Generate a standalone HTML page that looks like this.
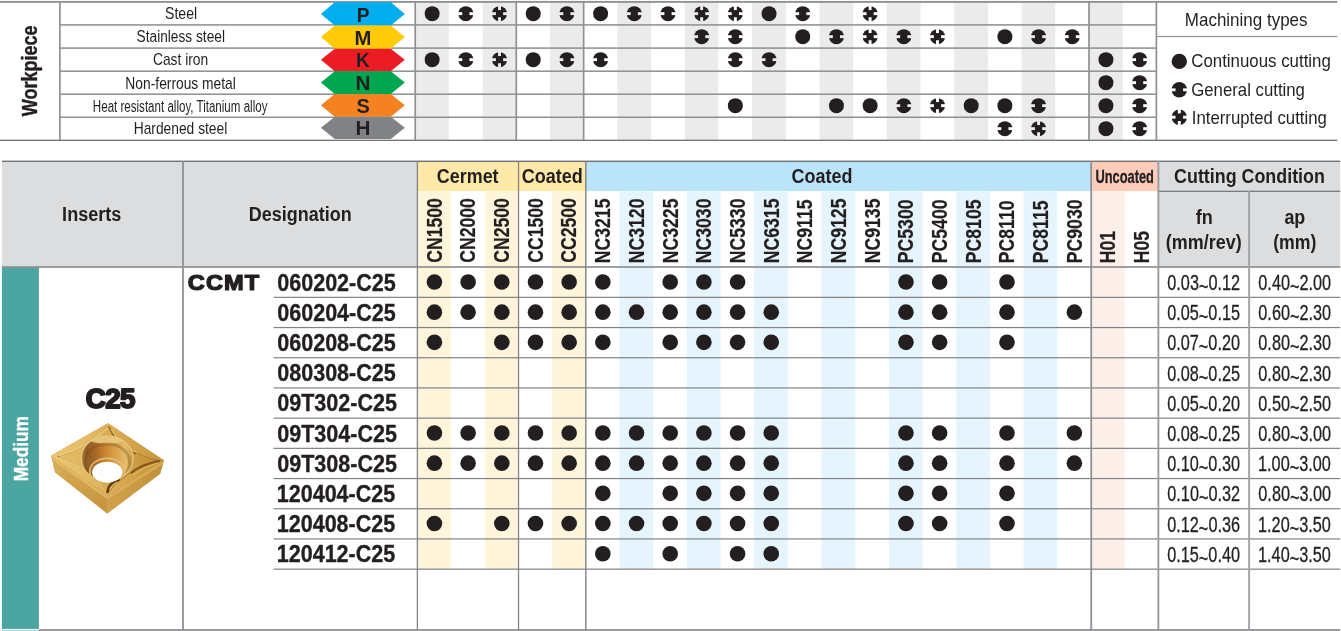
<!DOCTYPE html>
<html lang="en"><head><meta charset="utf-8"><title>CCMT C25 insert grades</title>
<style>html,body{margin:0;padding:0;background:#fff;}body{width:1341px;height:631px;overflow:hidden;font-family:"Liberation Sans", sans-serif;}</style>
</head><body>
<svg width="1341" height="631" viewBox="0 0 1341 631" font-family='"Liberation Sans", sans-serif' style="display:block">
<rect x="415.20" y="1.90" width="33.69" height="138.35" fill="#ebebec"/>
<rect x="482.58" y="1.90" width="33.69" height="138.35" fill="#ebebec"/>
<rect x="549.96" y="1.90" width="33.69" height="138.35" fill="#ebebec"/>
<rect x="617.34" y="1.90" width="33.69" height="138.35" fill="#ebebec"/>
<rect x="684.72" y="1.90" width="33.69" height="138.35" fill="#ebebec"/>
<rect x="752.10" y="1.90" width="33.69" height="138.35" fill="#ebebec"/>
<rect x="819.48" y="1.90" width="33.69" height="138.35" fill="#ebebec"/>
<rect x="886.86" y="1.90" width="33.69" height="138.35" fill="#ebebec"/>
<rect x="954.24" y="1.90" width="33.69" height="138.35" fill="#ebebec"/>
<rect x="1021.62" y="1.90" width="33.69" height="138.35" fill="#ebebec"/>
<rect x="1089.00" y="1.90" width="33.69" height="138.35" fill="#ebebec"/>
<rect x="0.00" y="0.95" width="1337.30" height="1.90" fill="#8f9194"/>
<rect x="0.00" y="139.67" width="1337.30" height="1.35" fill="#737477"/>
<rect x="60.00" y="24.12" width="1096.38" height="1.55" fill="#8f9194"/>
<rect x="60.00" y="47.33" width="1096.38" height="1.55" fill="#8f9194"/>
<rect x="60.00" y="70.42" width="1096.38" height="1.55" fill="#8f9194"/>
<rect x="60.00" y="93.42" width="1096.38" height="1.55" fill="#8f9194"/>
<rect x="60.00" y="116.47" width="1096.38" height="1.55" fill="#8f9194"/>
<rect x="59.05" y="1.90" width="1.70" height="138.35" fill="#8f9194"/>
<rect x="414.35" y="1.90" width="1.70" height="138.35" fill="#8f9194"/>
<rect x="515.42" y="1.90" width="1.70" height="138.35" fill="#8f9194"/>
<rect x="582.80" y="1.90" width="1.70" height="138.35" fill="#8f9194"/>
<rect x="1088.15" y="1.90" width="1.70" height="138.35" fill="#8f9194"/>
<rect x="1155.53" y="1.90" width="1.70" height="138.35" fill="#8f9194"/>
<rect x="1156.38" y="35.90" width="180.92" height="1.20" fill="#8f9194"/>
<polygon points="320.9,14.00 334.8,2.20 390.8,2.20 404.8,14.00 390.8,25.60 334.8,25.60" fill="#00adee"/>
<text transform="translate(356.63,21.95) scale(0.9709,1)" font-size="19.8" font-weight="bold" text-anchor="start" fill="#231f20">P</text>
<text transform="translate(165.07,18.80) scale(0.8684,1)" font-size="16.2" font-weight="normal" text-anchor="start" fill="#231f20">Steel</text>
<polygon points="320.9,37.10 334.8,25.60 390.8,25.60 404.8,37.10 390.8,48.80 334.8,48.80" fill="#ffcb08"/>
<text transform="translate(354.46,44.95) scale(1.0231,1)" font-size="19.8" font-weight="bold" text-anchor="start" fill="#231f20">M</text>
<text transform="translate(136.58,42.00) scale(0.8465,1)" font-size="16.2" font-weight="normal" text-anchor="start" fill="#231f20">Stainless steel</text>
<polygon points="320.9,59.80 334.8,48.80 390.8,48.80 404.8,59.80 390.8,71.20 334.8,71.20" fill="#ec1c24"/>
<text transform="translate(356.05,67.05) scale(0.9601,1)" font-size="19.8" font-weight="bold" text-anchor="start" fill="#231f20">K</text>
<text transform="translate(152.91,64.70) scale(0.8528,1)" font-size="16.2" font-weight="normal" text-anchor="start" fill="#231f20">Cast iron</text>
<polygon points="320.9,82.50 334.8,71.20 390.8,71.20 404.8,82.50 390.8,93.90 334.8,93.90" fill="#00a650"/>
<text transform="translate(355.53,89.95) scale(1.0461,1)" font-size="19.8" font-weight="bold" text-anchor="start" fill="#231f20">N</text>
<text transform="translate(125.37,88.80) scale(0.8526,1)" font-size="16.2" font-weight="normal" text-anchor="start" fill="#231f20">Non-ferrous metal</text>
<polygon points="320.9,105.20 334.8,93.90 390.8,93.90 404.8,105.20 390.8,116.75 334.8,116.75" fill="#f58220"/>
<text transform="translate(356.54,112.85) scale(1.0101,1)" font-size="19.8" font-weight="bold" text-anchor="start" fill="#231f20">S</text>
<text transform="translate(92.85,112.00) scale(0.7145,1)" font-size="16.2" font-weight="normal" text-anchor="start" fill="#231f20">Heat resistant alloy, Titanium alloy</text>
<polygon points="320.9,127.80 334.8,116.75 390.8,116.75 404.8,127.80 390.8,139.10 334.8,139.10" fill="#808285"/>
<text transform="translate(355.53,134.95) scale(1.0461,1)" font-size="19.8" font-weight="bold" text-anchor="start" fill="#231f20">H</text>
<text transform="translate(133.67,133.90) scale(0.8523,1)" font-size="16.2" font-weight="normal" text-anchor="start" fill="#231f20">Hardened steel</text>
<text transform="translate(37.40,116.22) rotate(-90) scale(0.8165,1)" font-size="22.1" font-weight="bold" text-anchor="start" fill="#231f20" stroke="#231f20" stroke-width="0.35" stroke-linejoin="round">Workpiece</text>
<circle cx="432.14" cy="13.65" r="7.5" fill="#231f20"/>
<circle cx="465.84" cy="13.65" r="7.5" fill="#231f20"/>
<rect x="457.74" y="12.20" width="4.50" height="2.90" fill="#fff"/>
<rect x="469.44" y="12.20" width="4.50" height="2.90" fill="#fff"/>
<circle cx="499.52" cy="13.65" r="7.5" fill="#231f20"/>
<rect x="491.42" y="12.20" width="4.50" height="2.90" fill="#ebebec"/>
<rect x="503.12" y="12.20" width="4.50" height="2.90" fill="#ebebec"/>
<rect x="498.07" y="5.55" width="2.90" height="4.50" fill="#ebebec"/>
<rect x="498.07" y="17.25" width="2.90" height="4.50" fill="#ebebec"/>
<circle cx="533.22" cy="13.65" r="7.5" fill="#231f20"/>
<circle cx="566.90" cy="13.65" r="7.5" fill="#231f20"/>
<rect x="558.80" y="12.20" width="4.50" height="2.90" fill="#ebebec"/>
<rect x="570.50" y="12.20" width="4.50" height="2.90" fill="#ebebec"/>
<circle cx="600.60" cy="13.65" r="7.5" fill="#231f20"/>
<circle cx="634.28" cy="13.65" r="7.5" fill="#231f20"/>
<rect x="626.18" y="12.20" width="4.50" height="2.90" fill="#ebebec"/>
<rect x="637.88" y="12.20" width="4.50" height="2.90" fill="#ebebec"/>
<circle cx="667.98" cy="13.65" r="7.5" fill="#231f20"/>
<rect x="659.88" y="12.20" width="4.50" height="2.90" fill="#fff"/>
<rect x="671.58" y="12.20" width="4.50" height="2.90" fill="#fff"/>
<circle cx="701.67" cy="13.65" r="7.5" fill="#231f20"/>
<rect x="693.57" y="12.20" width="4.50" height="2.90" fill="#ebebec"/>
<rect x="705.27" y="12.20" width="4.50" height="2.90" fill="#ebebec"/>
<rect x="700.22" y="5.55" width="2.90" height="4.50" fill="#ebebec"/>
<rect x="700.22" y="17.25" width="2.90" height="4.50" fill="#ebebec"/>
<circle cx="735.35" cy="13.65" r="7.5" fill="#231f20"/>
<rect x="727.25" y="12.20" width="4.50" height="2.90" fill="#fff"/>
<rect x="738.95" y="12.20" width="4.50" height="2.90" fill="#fff"/>
<rect x="733.90" y="5.55" width="2.90" height="4.50" fill="#fff"/>
<rect x="733.90" y="17.25" width="2.90" height="4.50" fill="#fff"/>
<circle cx="769.04" cy="13.65" r="7.5" fill="#231f20"/>
<circle cx="802.74" cy="13.65" r="7.5" fill="#231f20"/>
<rect x="794.63" y="12.20" width="4.50" height="2.90" fill="#fff"/>
<rect x="806.34" y="12.20" width="4.50" height="2.90" fill="#fff"/>
<circle cx="870.11" cy="13.65" r="7.5" fill="#231f20"/>
<rect x="862.01" y="12.20" width="4.50" height="2.90" fill="#fff"/>
<rect x="873.71" y="12.20" width="4.50" height="2.90" fill="#fff"/>
<rect x="868.66" y="5.55" width="2.90" height="4.50" fill="#fff"/>
<rect x="868.66" y="17.25" width="2.90" height="4.50" fill="#fff"/>
<circle cx="701.67" cy="36.65" r="7.5" fill="#231f20"/>
<rect x="693.57" y="35.20" width="4.50" height="2.90" fill="#ebebec"/>
<rect x="705.27" y="35.20" width="4.50" height="2.90" fill="#ebebec"/>
<circle cx="735.35" cy="36.65" r="7.5" fill="#231f20"/>
<rect x="727.25" y="35.20" width="4.50" height="2.90" fill="#fff"/>
<rect x="738.95" y="35.20" width="4.50" height="2.90" fill="#fff"/>
<circle cx="802.74" cy="36.65" r="7.5" fill="#231f20"/>
<circle cx="836.43" cy="36.65" r="7.5" fill="#231f20"/>
<rect x="828.33" y="35.20" width="4.50" height="2.90" fill="#ebebec"/>
<rect x="840.03" y="35.20" width="4.50" height="2.90" fill="#ebebec"/>
<circle cx="870.11" cy="36.65" r="7.5" fill="#231f20"/>
<rect x="862.01" y="35.20" width="4.50" height="2.90" fill="#fff"/>
<rect x="873.71" y="35.20" width="4.50" height="2.90" fill="#fff"/>
<rect x="868.66" y="28.55" width="2.90" height="4.50" fill="#fff"/>
<rect x="868.66" y="40.25" width="2.90" height="4.50" fill="#fff"/>
<circle cx="903.80" cy="36.65" r="7.5" fill="#231f20"/>
<rect x="895.70" y="35.20" width="4.50" height="2.90" fill="#ebebec"/>
<rect x="907.40" y="35.20" width="4.50" height="2.90" fill="#ebebec"/>
<circle cx="937.50" cy="36.65" r="7.5" fill="#231f20"/>
<rect x="929.39" y="35.20" width="4.50" height="2.90" fill="#fff"/>
<rect x="941.10" y="35.20" width="4.50" height="2.90" fill="#fff"/>
<rect x="936.04" y="28.55" width="2.90" height="4.50" fill="#fff"/>
<rect x="936.04" y="40.25" width="2.90" height="4.50" fill="#fff"/>
<circle cx="1004.87" cy="36.65" r="7.5" fill="#231f20"/>
<circle cx="1038.56" cy="36.65" r="7.5" fill="#231f20"/>
<rect x="1030.46" y="35.20" width="4.50" height="2.90" fill="#ebebec"/>
<rect x="1042.16" y="35.20" width="4.50" height="2.90" fill="#ebebec"/>
<circle cx="1072.25" cy="36.65" r="7.5" fill="#231f20"/>
<rect x="1064.15" y="35.20" width="4.50" height="2.90" fill="#fff"/>
<rect x="1075.85" y="35.20" width="4.50" height="2.90" fill="#fff"/>
<circle cx="432.14" cy="59.65" r="7.5" fill="#231f20"/>
<circle cx="465.84" cy="59.65" r="7.5" fill="#231f20"/>
<rect x="457.74" y="58.20" width="4.50" height="2.90" fill="#fff"/>
<rect x="469.44" y="58.20" width="4.50" height="2.90" fill="#fff"/>
<circle cx="499.52" cy="59.65" r="7.5" fill="#231f20"/>
<rect x="491.42" y="58.20" width="4.50" height="2.90" fill="#ebebec"/>
<rect x="503.12" y="58.20" width="4.50" height="2.90" fill="#ebebec"/>
<rect x="498.07" y="51.55" width="2.90" height="4.50" fill="#ebebec"/>
<rect x="498.07" y="63.25" width="2.90" height="4.50" fill="#ebebec"/>
<circle cx="533.22" cy="59.65" r="7.5" fill="#231f20"/>
<circle cx="566.90" cy="59.65" r="7.5" fill="#231f20"/>
<rect x="558.80" y="58.20" width="4.50" height="2.90" fill="#ebebec"/>
<rect x="570.50" y="58.20" width="4.50" height="2.90" fill="#ebebec"/>
<circle cx="600.60" cy="59.65" r="7.5" fill="#231f20"/>
<rect x="592.50" y="58.20" width="4.50" height="2.90" fill="#fff"/>
<rect x="604.20" y="58.20" width="4.50" height="2.90" fill="#fff"/>
<circle cx="735.35" cy="59.65" r="7.5" fill="#231f20"/>
<rect x="727.25" y="58.20" width="4.50" height="2.90" fill="#fff"/>
<rect x="738.95" y="58.20" width="4.50" height="2.90" fill="#fff"/>
<circle cx="769.04" cy="59.65" r="7.5" fill="#231f20"/>
<rect x="760.94" y="58.20" width="4.50" height="2.90" fill="#ebebec"/>
<rect x="772.64" y="58.20" width="4.50" height="2.90" fill="#ebebec"/>
<circle cx="1105.94" cy="59.65" r="7.5" fill="#231f20"/>
<circle cx="1139.63" cy="59.65" r="7.5" fill="#231f20"/>
<rect x="1131.53" y="58.20" width="4.50" height="2.90" fill="#fff"/>
<rect x="1143.23" y="58.20" width="4.50" height="2.90" fill="#fff"/>
<circle cx="1105.94" cy="82.65" r="7.5" fill="#231f20"/>
<circle cx="1139.63" cy="82.65" r="7.5" fill="#231f20"/>
<rect x="1131.53" y="81.20" width="4.50" height="2.90" fill="#fff"/>
<rect x="1143.23" y="81.20" width="4.50" height="2.90" fill="#fff"/>
<circle cx="735.35" cy="105.65" r="7.5" fill="#231f20"/>
<circle cx="836.43" cy="105.65" r="7.5" fill="#231f20"/>
<circle cx="870.11" cy="105.65" r="7.5" fill="#231f20"/>
<circle cx="903.80" cy="105.65" r="7.5" fill="#231f20"/>
<rect x="895.70" y="104.20" width="4.50" height="2.90" fill="#ebebec"/>
<rect x="907.40" y="104.20" width="4.50" height="2.90" fill="#ebebec"/>
<circle cx="937.50" cy="105.65" r="7.5" fill="#231f20"/>
<rect x="929.39" y="104.20" width="4.50" height="2.90" fill="#fff"/>
<rect x="941.10" y="104.20" width="4.50" height="2.90" fill="#fff"/>
<rect x="936.04" y="97.55" width="2.90" height="4.50" fill="#fff"/>
<rect x="936.04" y="109.25" width="2.90" height="4.50" fill="#fff"/>
<circle cx="971.19" cy="105.65" r="7.5" fill="#231f20"/>
<circle cx="1004.87" cy="105.65" r="7.5" fill="#231f20"/>
<circle cx="1038.56" cy="105.65" r="7.5" fill="#231f20"/>
<rect x="1030.46" y="104.20" width="4.50" height="2.90" fill="#ebebec"/>
<rect x="1042.16" y="104.20" width="4.50" height="2.90" fill="#ebebec"/>
<circle cx="1105.94" cy="105.65" r="7.5" fill="#231f20"/>
<circle cx="1139.63" cy="105.65" r="7.5" fill="#231f20"/>
<rect x="1131.53" y="104.20" width="4.50" height="2.90" fill="#fff"/>
<rect x="1143.23" y="104.20" width="4.50" height="2.90" fill="#fff"/>
<circle cx="1004.87" cy="128.65" r="7.5" fill="#231f20"/>
<rect x="996.77" y="127.20" width="4.50" height="2.90" fill="#fff"/>
<rect x="1008.47" y="127.20" width="4.50" height="2.90" fill="#fff"/>
<circle cx="1038.56" cy="128.65" r="7.5" fill="#231f20"/>
<rect x="1030.46" y="127.20" width="4.50" height="2.90" fill="#ebebec"/>
<rect x="1042.16" y="127.20" width="4.50" height="2.90" fill="#ebebec"/>
<rect x="1037.11" y="120.55" width="2.90" height="4.50" fill="#ebebec"/>
<rect x="1037.11" y="132.25" width="2.90" height="4.50" fill="#ebebec"/>
<circle cx="1105.94" cy="128.65" r="7.5" fill="#231f20"/>
<circle cx="1139.63" cy="128.65" r="7.5" fill="#231f20"/>
<rect x="1131.53" y="127.20" width="4.50" height="2.90" fill="#fff"/>
<rect x="1143.23" y="127.20" width="4.50" height="2.90" fill="#fff"/>
<text transform="translate(1184.81,25.70) scale(0.9389,1)" font-size="18.1" font-weight="normal" text-anchor="start" fill="#231f20">Machining types</text>
<circle cx="1179.30" cy="61.40" r="7.7" fill="#231f20"/>
<circle cx="1179.30" cy="89.80" r="7.7" fill="#231f20"/>
<rect x="1171.00" y="88.35" width="4.50" height="2.90" fill="#fff"/>
<rect x="1183.10" y="88.35" width="4.50" height="2.90" fill="#fff"/>
<circle cx="1179.30" cy="117.20" r="7.7" fill="#231f20"/>
<rect x="1171.00" y="115.75" width="4.50" height="2.90" fill="#fff"/>
<rect x="1183.10" y="115.75" width="4.50" height="2.90" fill="#fff"/>
<rect x="1177.85" y="108.90" width="2.90" height="4.50" fill="#fff"/>
<rect x="1177.85" y="121.00" width="2.90" height="4.50" fill="#fff"/>
<text transform="translate(1191.26,66.70) scale(0.9470,1)" font-size="17.8" font-weight="normal" text-anchor="start" fill="#231f20">Continuous cutting</text>
<text transform="translate(1191.26,95.60) scale(0.9419,1)" font-size="17.8" font-weight="normal" text-anchor="start" fill="#231f20">General cutting</text>
<text transform="translate(1191.76,123.90) scale(0.9425,1)" font-size="17.8" font-weight="normal" text-anchor="start" fill="#231f20">Interrupted cutting</text>
<rect x="1.90" y="161.00" width="415.50" height="106.00" fill="#dcddde"/>
<rect x="1158.36" y="161.00" width="181.84" height="106.00" fill="#dcddde"/>
<rect x="417.40" y="161.00" width="168.40" height="30.10" fill="#ffe9a8"/>
<rect x="585.80" y="161.00" width="505.20" height="30.10" fill="#b9e4f9"/>
<rect x="1091.00" y="161.00" width="67.36" height="30.10" fill="#fdcdb9"/>
<rect x="417.40" y="191.10" width="33.68" height="377.90" fill="#fef5da"/>
<rect x="484.76" y="191.10" width="33.68" height="377.90" fill="#fef5da"/>
<rect x="552.12" y="191.10" width="33.68" height="377.90" fill="#fef5da"/>
<rect x="619.48" y="191.10" width="33.68" height="377.90" fill="#e6f5fd"/>
<rect x="686.84" y="191.10" width="33.68" height="377.90" fill="#e6f5fd"/>
<rect x="754.20" y="191.10" width="33.68" height="377.90" fill="#e6f5fd"/>
<rect x="821.56" y="191.10" width="33.68" height="377.90" fill="#e6f5fd"/>
<rect x="888.92" y="191.10" width="33.68" height="377.90" fill="#e6f5fd"/>
<rect x="956.28" y="191.10" width="33.68" height="377.90" fill="#e6f5fd"/>
<rect x="1023.64" y="191.10" width="33.68" height="377.90" fill="#e6f5fd"/>
<rect x="1091.00" y="191.10" width="33.68" height="377.90" fill="#fdf0e9"/>
<rect x="1.90" y="267.00" width="37.00" height="361.90" fill="#4ba5a1"/>
<rect x="1.90" y="629.90" width="37.00" height="1.20" fill="#a5d5d1"/>
<rect x="1.90" y="160.58" width="1338.30" height="1.45" fill="#737477"/>
<rect x="1.90" y="266.15" width="1338.30" height="1.70" fill="#8f9194"/>
<rect x="38.90" y="629.10" width="1301.30" height="1.80" fill="#8f9194"/>
<rect x="1158.36" y="190.72" width="181.84" height="1.15" fill="#6b6d70"/>
<rect x="273.50" y="296.75" width="1066.70" height="1.20" fill="#808285"/>
<rect x="273.50" y="326.95" width="1066.70" height="1.20" fill="#808285"/>
<rect x="273.50" y="357.15" width="1066.70" height="1.20" fill="#808285"/>
<rect x="273.50" y="387.35" width="1066.70" height="1.20" fill="#808285"/>
<rect x="273.50" y="417.55" width="1066.70" height="1.20" fill="#808285"/>
<rect x="273.50" y="447.75" width="1066.70" height="1.20" fill="#808285"/>
<rect x="273.50" y="477.95" width="1066.70" height="1.20" fill="#808285"/>
<rect x="273.50" y="508.15" width="1066.70" height="1.20" fill="#808285"/>
<rect x="273.50" y="538.35" width="1066.70" height="1.20" fill="#808285"/>
<rect x="273.50" y="568.55" width="1066.70" height="1.20" fill="#808285"/>
<rect x="182.10" y="161.00" width="1.80" height="469.00" fill="#8f9194"/>
<rect x="416.72" y="161.00" width="1.35" height="469.00" fill="#85878a"/>
<rect x="517.91" y="161.00" width="1.25" height="469.00" fill="#808285"/>
<rect x="585.10" y="161.00" width="1.40" height="469.00" fill="#808285"/>
<rect x="1090.30" y="161.00" width="1.80" height="469.00" fill="#8f9194"/>
<rect x="1157.41" y="161.00" width="1.90" height="469.00" fill="#9a9c9f"/>
<rect x="1248.15" y="191.10" width="1.90" height="438.90" fill="#a0a2a5"/>
<text transform="translate(62.11,221.20) scale(0.9309,1)" font-size="19.4" font-weight="bold" text-anchor="start" fill="#231f20">Inserts</text>
<text transform="translate(248.81,221.20) scale(0.9268,1)" font-size="19.4" font-weight="bold" text-anchor="start" fill="#231f20">Designation</text>
<text transform="translate(436.87,182.90) scale(0.9237,1)" font-size="19.4" font-weight="bold" text-anchor="start" fill="#231f20">Cermet</text>
<text transform="translate(521.76,182.90) scale(0.9298,1)" font-size="19.4" font-weight="bold" text-anchor="start" fill="#231f20">Coated</text>
<text transform="translate(791.56,182.90) scale(0.9251,1)" font-size="19.4" font-weight="bold" text-anchor="start" fill="#231f20">Coated</text>
<text transform="translate(1095.43,183.20) scale(0.7176,1)" font-size="17.9" font-weight="bold" text-anchor="start" fill="#231f20" stroke="#231f20" stroke-width="0.3" stroke-linejoin="round">Uncoated</text>
<text transform="translate(1174.07,183.00) scale(0.9216,1)" font-size="19.4" font-weight="bold" text-anchor="start" fill="#231f20">Cutting Condition</text>
<text transform="translate(1195.79,223.90) scale(0.9296,1)" font-size="19.4" font-weight="bold" text-anchor="start" fill="#231f20">fn</text>
<text transform="translate(1165.82,248.60) scale(0.9257,1)" font-size="19.4" font-weight="bold" text-anchor="start" fill="#231f20">(mm/rev)</text>
<text transform="translate(1284.38,223.90) scale(0.9210,1)" font-size="19.4" font-weight="bold" text-anchor="start" fill="#231f20">ap</text>
<text transform="translate(1273.13,248.60) scale(0.9118,1)" font-size="19.4" font-weight="bold" text-anchor="start" fill="#231f20">(mm)</text>
<text transform="translate(441.74,262.72) rotate(-90) scale(0.7795,1)" font-size="22.6" font-weight="bold" text-anchor="start" fill="#231f20" stroke="#231f20" stroke-width="0.2" stroke-linejoin="round">CN1500</text>
<text transform="translate(475.42,262.72) rotate(-90) scale(0.7795,1)" font-size="22.6" font-weight="bold" text-anchor="start" fill="#231f20" stroke="#231f20" stroke-width="0.2" stroke-linejoin="round">CN2000</text>
<text transform="translate(509.10,262.72) rotate(-90) scale(0.7795,1)" font-size="22.6" font-weight="bold" text-anchor="start" fill="#231f20" stroke="#231f20" stroke-width="0.2" stroke-linejoin="round">CN2500</text>
<text transform="translate(542.78,262.72) rotate(-90) scale(0.7795,1)" font-size="22.6" font-weight="bold" text-anchor="start" fill="#231f20" stroke="#231f20" stroke-width="0.2" stroke-linejoin="round">CC1500</text>
<text transform="translate(576.46,262.72) rotate(-90) scale(0.7795,1)" font-size="22.6" font-weight="bold" text-anchor="start" fill="#231f20" stroke="#231f20" stroke-width="0.2" stroke-linejoin="round">CC2500</text>
<text transform="translate(610.14,263.16) rotate(-90) scale(0.7795,1)" font-size="22.6" font-weight="bold" text-anchor="start" fill="#231f20" stroke="#231f20" stroke-width="0.2" stroke-linejoin="round">NC3215</text>
<text transform="translate(643.82,263.16) rotate(-90) scale(0.7795,1)" font-size="22.6" font-weight="bold" text-anchor="start" fill="#231f20" stroke="#231f20" stroke-width="0.2" stroke-linejoin="round">NC3120</text>
<text transform="translate(677.50,263.16) rotate(-90) scale(0.7795,1)" font-size="22.6" font-weight="bold" text-anchor="start" fill="#231f20" stroke="#231f20" stroke-width="0.2" stroke-linejoin="round">NC3225</text>
<text transform="translate(711.18,263.16) rotate(-90) scale(0.7795,1)" font-size="22.6" font-weight="bold" text-anchor="start" fill="#231f20" stroke="#231f20" stroke-width="0.2" stroke-linejoin="round">NC3030</text>
<text transform="translate(744.86,263.16) rotate(-90) scale(0.7795,1)" font-size="22.6" font-weight="bold" text-anchor="start" fill="#231f20" stroke="#231f20" stroke-width="0.2" stroke-linejoin="round">NC5330</text>
<text transform="translate(778.54,263.16) rotate(-90) scale(0.7795,1)" font-size="22.6" font-weight="bold" text-anchor="start" fill="#231f20" stroke="#231f20" stroke-width="0.2" stroke-linejoin="round">NC6315</text>
<text transform="translate(812.22,263.16) rotate(-90) scale(0.7795,1)" font-size="22.6" font-weight="bold" text-anchor="start" fill="#231f20" stroke="#231f20" stroke-width="0.2" stroke-linejoin="round">NC9115</text>
<text transform="translate(845.90,263.16) rotate(-90) scale(0.7795,1)" font-size="22.6" font-weight="bold" text-anchor="start" fill="#231f20" stroke="#231f20" stroke-width="0.2" stroke-linejoin="round">NC9125</text>
<text transform="translate(879.58,263.16) rotate(-90) scale(0.7795,1)" font-size="22.6" font-weight="bold" text-anchor="start" fill="#231f20" stroke="#231f20" stroke-width="0.2" stroke-linejoin="round">NC9135</text>
<text transform="translate(913.26,263.16) rotate(-90) scale(0.7795,1)" font-size="22.6" font-weight="bold" text-anchor="start" fill="#231f20" stroke="#231f20" stroke-width="0.2" stroke-linejoin="round">PC5300</text>
<text transform="translate(946.94,263.16) rotate(-90) scale(0.7795,1)" font-size="22.6" font-weight="bold" text-anchor="start" fill="#231f20" stroke="#231f20" stroke-width="0.2" stroke-linejoin="round">PC5400</text>
<text transform="translate(980.62,263.16) rotate(-90) scale(0.7795,1)" font-size="22.6" font-weight="bold" text-anchor="start" fill="#231f20" stroke="#231f20" stroke-width="0.2" stroke-linejoin="round">PC8105</text>
<text transform="translate(1014.30,263.16) rotate(-90) scale(0.7795,1)" font-size="22.6" font-weight="bold" text-anchor="start" fill="#231f20" stroke="#231f20" stroke-width="0.2" stroke-linejoin="round">PC8110</text>
<text transform="translate(1047.98,263.16) rotate(-90) scale(0.7795,1)" font-size="22.6" font-weight="bold" text-anchor="start" fill="#231f20" stroke="#231f20" stroke-width="0.2" stroke-linejoin="round">PC8115</text>
<text transform="translate(1081.66,263.16) rotate(-90) scale(0.7795,1)" font-size="22.6" font-weight="bold" text-anchor="start" fill="#231f20" stroke="#231f20" stroke-width="0.2" stroke-linejoin="round">PC9030</text>
<text transform="translate(1115.34,263.16) rotate(-90) scale(0.7795,1)" font-size="22.6" font-weight="bold" text-anchor="start" fill="#231f20" stroke="#231f20" stroke-width="0.2" stroke-linejoin="round">H01</text>
<text transform="translate(1149.02,263.16) rotate(-90) scale(0.7795,1)" font-size="22.6" font-weight="bold" text-anchor="start" fill="#231f20" stroke="#231f20" stroke-width="0.2" stroke-linejoin="round">H05</text>
<text transform="translate(277.26,290.60) scale(0.9048,1)" font-size="23.8" font-weight="bold" text-anchor="start" fill="#231f20" stroke="#231f20" stroke-width="0.35" stroke-linejoin="round">060202-C25</text>
<text transform="translate(1167.27,290.00) scale(0.7605,1)" font-size="21.4" fill="#231f20" stroke="#231f20" stroke-width="0.3">0.03<tspan dy="3.9">~</tspan><tspan dy="-3.9">0.12</tspan></text>
<text transform="translate(1258.32,290.00) scale(0.7605,1)" font-size="21.4" fill="#231f20" stroke="#231f20" stroke-width="0.3">0.40<tspan dy="3.9">~</tspan><tspan dy="-3.9">2.00</tspan></text>
<circle cx="434.44" cy="281.95" r="7.8" fill="#231f20"/>
<circle cx="468.12" cy="281.95" r="7.8" fill="#231f20"/>
<circle cx="501.80" cy="281.95" r="7.8" fill="#231f20"/>
<circle cx="535.48" cy="281.95" r="7.8" fill="#231f20"/>
<circle cx="569.16" cy="281.95" r="7.8" fill="#231f20"/>
<circle cx="602.84" cy="281.95" r="7.8" fill="#231f20"/>
<circle cx="670.20" cy="281.95" r="7.8" fill="#231f20"/>
<circle cx="703.88" cy="281.95" r="7.8" fill="#231f20"/>
<circle cx="737.56" cy="281.95" r="7.8" fill="#231f20"/>
<circle cx="905.96" cy="281.95" r="7.8" fill="#231f20"/>
<circle cx="939.64" cy="281.95" r="7.8" fill="#231f20"/>
<circle cx="1007.00" cy="281.95" r="7.8" fill="#231f20"/>
<text transform="translate(277.26,320.80) scale(0.9048,1)" font-size="23.8" font-weight="bold" text-anchor="start" fill="#231f20" stroke="#231f20" stroke-width="0.35" stroke-linejoin="round">060204-C25</text>
<text transform="translate(1167.19,320.20) scale(0.7605,1)" font-size="21.4" fill="#231f20" stroke="#231f20" stroke-width="0.3">0.05<tspan dy="3.9">~</tspan><tspan dy="-3.9">0.15</tspan></text>
<text transform="translate(1258.32,320.20) scale(0.7605,1)" font-size="21.4" fill="#231f20" stroke="#231f20" stroke-width="0.3">0.60<tspan dy="3.9">~</tspan><tspan dy="-3.9">2.30</tspan></text>
<circle cx="434.44" cy="312.15" r="7.8" fill="#231f20"/>
<circle cx="468.12" cy="312.15" r="7.8" fill="#231f20"/>
<circle cx="501.80" cy="312.15" r="7.8" fill="#231f20"/>
<circle cx="535.48" cy="312.15" r="7.8" fill="#231f20"/>
<circle cx="569.16" cy="312.15" r="7.8" fill="#231f20"/>
<circle cx="602.84" cy="312.15" r="7.8" fill="#231f20"/>
<circle cx="636.52" cy="312.15" r="7.8" fill="#231f20"/>
<circle cx="670.20" cy="312.15" r="7.8" fill="#231f20"/>
<circle cx="703.88" cy="312.15" r="7.8" fill="#231f20"/>
<circle cx="737.56" cy="312.15" r="7.8" fill="#231f20"/>
<circle cx="771.24" cy="312.15" r="7.8" fill="#231f20"/>
<circle cx="905.96" cy="312.15" r="7.8" fill="#231f20"/>
<circle cx="939.64" cy="312.15" r="7.8" fill="#231f20"/>
<circle cx="1007.00" cy="312.15" r="7.8" fill="#231f20"/>
<circle cx="1074.36" cy="312.15" r="7.8" fill="#231f20"/>
<text transform="translate(277.26,351.00) scale(0.9048,1)" font-size="23.8" font-weight="bold" text-anchor="start" fill="#231f20" stroke="#231f20" stroke-width="0.35" stroke-linejoin="round">060208-C25</text>
<text transform="translate(1167.17,350.40) scale(0.7605,1)" font-size="21.4" fill="#231f20" stroke="#231f20" stroke-width="0.3">0.07<tspan dy="3.9">~</tspan><tspan dy="-3.9">0.20</tspan></text>
<text transform="translate(1258.32,350.40) scale(0.7605,1)" font-size="21.4" fill="#231f20" stroke="#231f20" stroke-width="0.3">0.80<tspan dy="3.9">~</tspan><tspan dy="-3.9">2.30</tspan></text>
<circle cx="434.44" cy="342.35" r="7.8" fill="#231f20"/>
<circle cx="501.80" cy="342.35" r="7.8" fill="#231f20"/>
<circle cx="535.48" cy="342.35" r="7.8" fill="#231f20"/>
<circle cx="569.16" cy="342.35" r="7.8" fill="#231f20"/>
<circle cx="602.84" cy="342.35" r="7.8" fill="#231f20"/>
<circle cx="670.20" cy="342.35" r="7.8" fill="#231f20"/>
<circle cx="703.88" cy="342.35" r="7.8" fill="#231f20"/>
<circle cx="737.56" cy="342.35" r="7.8" fill="#231f20"/>
<circle cx="771.24" cy="342.35" r="7.8" fill="#231f20"/>
<circle cx="905.96" cy="342.35" r="7.8" fill="#231f20"/>
<circle cx="939.64" cy="342.35" r="7.8" fill="#231f20"/>
<circle cx="1007.00" cy="342.35" r="7.8" fill="#231f20"/>
<text transform="translate(277.26,381.20) scale(0.9048,1)" font-size="23.8" font-weight="bold" text-anchor="start" fill="#231f20" stroke="#231f20" stroke-width="0.35" stroke-linejoin="round">080308-C25</text>
<text transform="translate(1167.19,380.60) scale(0.7605,1)" font-size="21.4" fill="#231f20" stroke="#231f20" stroke-width="0.3">0.08<tspan dy="3.9">~</tspan><tspan dy="-3.9">0.25</tspan></text>
<text transform="translate(1258.32,380.60) scale(0.7605,1)" font-size="21.4" fill="#231f20" stroke="#231f20" stroke-width="0.3">0.80<tspan dy="3.9">~</tspan><tspan dy="-3.9">2.30</tspan></text>
<text transform="translate(277.26,411.40) scale(0.9048,1)" font-size="23.8" font-weight="bold" text-anchor="start" fill="#231f20" stroke="#231f20" stroke-width="0.35" stroke-linejoin="round">09T302-C25</text>
<text transform="translate(1167.17,410.80) scale(0.7605,1)" font-size="21.4" fill="#231f20" stroke="#231f20" stroke-width="0.3">0.05<tspan dy="3.9">~</tspan><tspan dy="-3.9">0.20</tspan></text>
<text transform="translate(1258.32,410.80) scale(0.7605,1)" font-size="21.4" fill="#231f20" stroke="#231f20" stroke-width="0.3">0.50<tspan dy="3.9">~</tspan><tspan dy="-3.9">2.50</tspan></text>
<text transform="translate(277.26,441.60) scale(0.9048,1)" font-size="23.8" font-weight="bold" text-anchor="start" fill="#231f20" stroke="#231f20" stroke-width="0.35" stroke-linejoin="round">09T304-C25</text>
<text transform="translate(1167.19,441.00) scale(0.7605,1)" font-size="21.4" fill="#231f20" stroke="#231f20" stroke-width="0.3">0.08<tspan dy="3.9">~</tspan><tspan dy="-3.9">0.25</tspan></text>
<text transform="translate(1258.32,441.00) scale(0.7605,1)" font-size="21.4" fill="#231f20" stroke="#231f20" stroke-width="0.3">0.80<tspan dy="3.9">~</tspan><tspan dy="-3.9">3.00</tspan></text>
<circle cx="434.44" cy="432.95" r="7.8" fill="#231f20"/>
<circle cx="468.12" cy="432.95" r="7.8" fill="#231f20"/>
<circle cx="501.80" cy="432.95" r="7.8" fill="#231f20"/>
<circle cx="535.48" cy="432.95" r="7.8" fill="#231f20"/>
<circle cx="569.16" cy="432.95" r="7.8" fill="#231f20"/>
<circle cx="602.84" cy="432.95" r="7.8" fill="#231f20"/>
<circle cx="636.52" cy="432.95" r="7.8" fill="#231f20"/>
<circle cx="670.20" cy="432.95" r="7.8" fill="#231f20"/>
<circle cx="703.88" cy="432.95" r="7.8" fill="#231f20"/>
<circle cx="737.56" cy="432.95" r="7.8" fill="#231f20"/>
<circle cx="771.24" cy="432.95" r="7.8" fill="#231f20"/>
<circle cx="905.96" cy="432.95" r="7.8" fill="#231f20"/>
<circle cx="939.64" cy="432.95" r="7.8" fill="#231f20"/>
<circle cx="1007.00" cy="432.95" r="7.8" fill="#231f20"/>
<circle cx="1074.36" cy="432.95" r="7.8" fill="#231f20"/>
<text transform="translate(277.26,471.80) scale(0.9048,1)" font-size="23.8" font-weight="bold" text-anchor="start" fill="#231f20" stroke="#231f20" stroke-width="0.35" stroke-linejoin="round">09T308-C25</text>
<text transform="translate(1167.17,471.20) scale(0.7605,1)" font-size="21.4" fill="#231f20" stroke="#231f20" stroke-width="0.3">0.10<tspan dy="3.9">~</tspan><tspan dy="-3.9">0.30</tspan></text>
<text transform="translate(1258.02,471.20) scale(0.7605,1)" font-size="21.4" fill="#231f20" stroke="#231f20" stroke-width="0.3">1.00<tspan dy="3.9">~</tspan><tspan dy="-3.9">3.00</tspan></text>
<circle cx="434.44" cy="463.15" r="7.8" fill="#231f20"/>
<circle cx="468.12" cy="463.15" r="7.8" fill="#231f20"/>
<circle cx="501.80" cy="463.15" r="7.8" fill="#231f20"/>
<circle cx="535.48" cy="463.15" r="7.8" fill="#231f20"/>
<circle cx="569.16" cy="463.15" r="7.8" fill="#231f20"/>
<circle cx="602.84" cy="463.15" r="7.8" fill="#231f20"/>
<circle cx="636.52" cy="463.15" r="7.8" fill="#231f20"/>
<circle cx="670.20" cy="463.15" r="7.8" fill="#231f20"/>
<circle cx="703.88" cy="463.15" r="7.8" fill="#231f20"/>
<circle cx="737.56" cy="463.15" r="7.8" fill="#231f20"/>
<circle cx="771.24" cy="463.15" r="7.8" fill="#231f20"/>
<circle cx="905.96" cy="463.15" r="7.8" fill="#231f20"/>
<circle cx="939.64" cy="463.15" r="7.8" fill="#231f20"/>
<circle cx="1007.00" cy="463.15" r="7.8" fill="#231f20"/>
<circle cx="1074.36" cy="463.15" r="7.8" fill="#231f20"/>
<text transform="translate(276.76,502.00) scale(0.9048,1)" font-size="23.8" font-weight="bold" text-anchor="start" fill="#231f20" stroke="#231f20" stroke-width="0.35" stroke-linejoin="round">120404-C25</text>
<text transform="translate(1167.27,501.40) scale(0.7605,1)" font-size="21.4" fill="#231f20" stroke="#231f20" stroke-width="0.3">0.10<tspan dy="3.9">~</tspan><tspan dy="-3.9">0.32</tspan></text>
<text transform="translate(1258.32,501.40) scale(0.7605,1)" font-size="21.4" fill="#231f20" stroke="#231f20" stroke-width="0.3">0.80<tspan dy="3.9">~</tspan><tspan dy="-3.9">3.00</tspan></text>
<circle cx="602.84" cy="493.35" r="7.8" fill="#231f20"/>
<circle cx="670.20" cy="493.35" r="7.8" fill="#231f20"/>
<circle cx="703.88" cy="493.35" r="7.8" fill="#231f20"/>
<circle cx="737.56" cy="493.35" r="7.8" fill="#231f20"/>
<circle cx="771.24" cy="493.35" r="7.8" fill="#231f20"/>
<circle cx="905.96" cy="493.35" r="7.8" fill="#231f20"/>
<circle cx="939.64" cy="493.35" r="7.8" fill="#231f20"/>
<circle cx="1007.00" cy="493.35" r="7.8" fill="#231f20"/>
<text transform="translate(276.76,532.20) scale(0.9048,1)" font-size="23.8" font-weight="bold" text-anchor="start" fill="#231f20" stroke="#231f20" stroke-width="0.35" stroke-linejoin="round">120408-C25</text>
<text transform="translate(1167.21,531.60) scale(0.7605,1)" font-size="21.4" fill="#231f20" stroke="#231f20" stroke-width="0.3">0.12<tspan dy="3.9">~</tspan><tspan dy="-3.9">0.36</tspan></text>
<text transform="translate(1258.02,531.60) scale(0.7605,1)" font-size="21.4" fill="#231f20" stroke="#231f20" stroke-width="0.3">1.20<tspan dy="3.9">~</tspan><tspan dy="-3.9">3.50</tspan></text>
<circle cx="434.44" cy="523.55" r="7.8" fill="#231f20"/>
<circle cx="501.80" cy="523.55" r="7.8" fill="#231f20"/>
<circle cx="535.48" cy="523.55" r="7.8" fill="#231f20"/>
<circle cx="569.16" cy="523.55" r="7.8" fill="#231f20"/>
<circle cx="602.84" cy="523.55" r="7.8" fill="#231f20"/>
<circle cx="636.52" cy="523.55" r="7.8" fill="#231f20"/>
<circle cx="670.20" cy="523.55" r="7.8" fill="#231f20"/>
<circle cx="703.88" cy="523.55" r="7.8" fill="#231f20"/>
<circle cx="737.56" cy="523.55" r="7.8" fill="#231f20"/>
<circle cx="771.24" cy="523.55" r="7.8" fill="#231f20"/>
<circle cx="905.96" cy="523.55" r="7.8" fill="#231f20"/>
<circle cx="939.64" cy="523.55" r="7.8" fill="#231f20"/>
<circle cx="1007.00" cy="523.55" r="7.8" fill="#231f20"/>
<text transform="translate(276.76,562.40) scale(0.9048,1)" font-size="23.8" font-weight="bold" text-anchor="start" fill="#231f20" stroke="#231f20" stroke-width="0.35" stroke-linejoin="round">120412-C25</text>
<text transform="translate(1167.17,561.80) scale(0.7605,1)" font-size="21.4" fill="#231f20" stroke="#231f20" stroke-width="0.3">0.15<tspan dy="3.9">~</tspan><tspan dy="-3.9">0.40</tspan></text>
<text transform="translate(1258.02,561.80) scale(0.7605,1)" font-size="21.4" fill="#231f20" stroke="#231f20" stroke-width="0.3">1.40<tspan dy="3.9">~</tspan><tspan dy="-3.9">3.50</tspan></text>
<circle cx="602.84" cy="553.75" r="7.8" fill="#231f20"/>
<circle cx="670.20" cy="553.75" r="7.8" fill="#231f20"/>
<circle cx="737.56" cy="553.75" r="7.8" fill="#231f20"/>
<circle cx="771.24" cy="553.75" r="7.8" fill="#231f20"/>
<text transform="translate(187.76,290.30) scale(1.0833,1)" font-size="21.8" font-weight="bold" text-anchor="start" fill="#231f20" stroke="#231f20" stroke-width="1.25" stroke-linejoin="round" letter-spacing="1.0">CCMT</text>
<text transform="translate(85.71,408.20) scale(1.0092,1)" font-size="27.5" font-weight="bold" text-anchor="start" fill="#231f20" stroke="#231f20" stroke-width="1.9" stroke-linejoin="round" letter-spacing="-0.6">C25</text>
<text transform="translate(27.70,481.34) rotate(-90) scale(0.8655,1)" font-size="20.0" font-weight="bold" text-anchor="start" fill="#fff" stroke="#fff" stroke-width="0.35" stroke-linejoin="round">Medium</text>
<defs>
<linearGradient id="gTop" x1="0" y1="0.5" x2="1" y2="0.5">
<stop offset="0" stop-color="#edc877"/><stop offset="0.35" stop-color="#e2b862"/><stop offset="0.7" stop-color="#d3a44b"/><stop offset="1" stop-color="#c6943c"/>
</linearGradient>
<linearGradient id="gStar" x1="0" y1="0.5" x2="1" y2="0.5">
<stop offset="0" stop-color="#e6be69"/><stop offset="0.5" stop-color="#d9ab52"/><stop offset="1" stop-color="#c08c36"/>
</linearGradient>
<linearGradient id="gSideL" x1="0" y1="0" x2="0.6" y2="1">
<stop offset="0" stop-color="#dbb05a"/><stop offset="0.5" stop-color="#d2a24c"/><stop offset="1" stop-color="#c8963f"/>
</linearGradient>
<linearGradient id="gSideR" x1="0" y1="1" x2="1" y2="0">
<stop offset="0" stop-color="#d2a24b"/><stop offset="0.5" stop-color="#ca9943"/><stop offset="1" stop-color="#c28f39"/>
</linearGradient>
<linearGradient id="gHole" x1="0" y1="0" x2="1" y2="0">
<stop offset="0" stop-color="#b78a3e"/><stop offset="0.09" stop-color="#8c5c22"/><stop offset="0.26" stop-color="#a5672a"/><stop offset="0.45" stop-color="#c8822f"/><stop offset="0.64" stop-color="#d89f49"/><stop offset="0.86" stop-color="#e4bc6b"/><stop offset="1" stop-color="#cc9c46"/>
</linearGradient>
<filter id="soft" x="-5%" y="-5%" width="110%" height="110%"><feGaussianBlur stdDeviation="0.45"/></filter>
<clipPath id="holeClip"><ellipse cx="107.26" cy="458.4" rx="25.9" ry="22.6"/></clipPath>
</defs>
<g filter="url(#soft)">
<path d="M51.14,455.52 L108.07,423.17 163.86,460.37 160.14,473.79 107.26,513.41 55.03,472.17 Z" fill="#cd9c46"/>
<path d="M51.14,455.52 L107.26,495.62 107.26,513.41 55.03,472.17 Z" fill="url(#gSideL)"/>
<path d="M107.26,495.62 L163.86,460.37 160.14,473.79 107.26,513.41 Z" fill="url(#gSideR)"/>
<path d="M107.26,495.94 L163.86,460.69 163.05,464.09 107.26,499.66 Z" fill="#dcb25c" opacity="0.8"/>
<path d="M51.47,456.16 L107.26,495.94 107.26,499.34 52.28,459.72 Z" fill="#e6c272" opacity="0.7"/>
<path d="M51.14,455.52 L108.07,423.17 163.86,460.37 107.26,495.62 Z" fill="url(#gTop)"/>
<path d="M57.61,456.49 Q83.00,451.15 108.39,426.41 Q121.81,452.77 160.14,461.01 Q123.43,470.55 107.26,493.68 Q91.90,467.32 57.61,456.49 Z" fill="url(#gStar)" stroke="#b07c2b" stroke-width="1.0" stroke-linejoin="round"/>
<path d="M58.91,455.68 Q83.00,450.02 107.74,427.70" fill="none" stroke="#f3d892" stroke-width="1.1"/>
<path d="M58.91,457.46 Q91.09,467.32 106.13,492.06" fill="none" stroke="#efd28c" stroke-width="1.0"/>
<path d="M109.36,427.38 Q117.77,447.11 135.56,453.90" fill="none" stroke="#96651f" stroke-width="1.5" stroke-linecap="round"/>
<path d="M110.98,429.32 Q119.39,445.49 136.36,452.28" fill="none" stroke="#efd28c" stroke-width="0.8" stroke-linecap="round"/>
<path d="M159.17,461.01 Q142.02,464.09 131.51,472.66" fill="none" stroke="#83541a" stroke-width="2.2" stroke-linecap="round"/>
<path d="M158.20,462.95 Q143.64,466.51 133.62,474.60" fill="none" stroke="#e2bb68" stroke-width="0.9" stroke-linecap="round"/>
<path d="M107.58,491.58 Q108.39,483.49 118.58,479.77" fill="none" stroke="#67390c" stroke-width="2.8" stroke-linecap="round"/>
<path d="M109.68,489.15 Q111.30,484.62 116.96,482.36" fill="none" stroke="#ecca80" stroke-width="0.9" stroke-linecap="round"/>
<ellipse cx="107.26" cy="458.4" rx="25.9" ry="22.6" fill="url(#gHole)"/>
<g clip-path="url(#holeClip)">
<ellipse cx="107.0" cy="439.3" rx="19" ry="4.2" fill="#e9cb84" opacity="0.9"/>
<ellipse cx="107.2" cy="462.5" rx="22.5" ry="18.5" fill="none" stroke="#7a4c1a" stroke-width="3.0" opacity="0.32"/>
<ellipse cx="107.26" cy="471.2" rx="17.4" ry="12.8" fill="none" stroke="#e6c074" stroke-width="1.7" opacity="0.9"/>
</g>
<ellipse cx="107.26" cy="458.4" rx="25.9" ry="22.6" fill="none" stroke="#e6c67e" stroke-width="1.2"/>
<ellipse cx="107.3" cy="472.2" rx="15.2" ry="10.5" fill="#fff"/>
</g>
</svg>
</body></html>
